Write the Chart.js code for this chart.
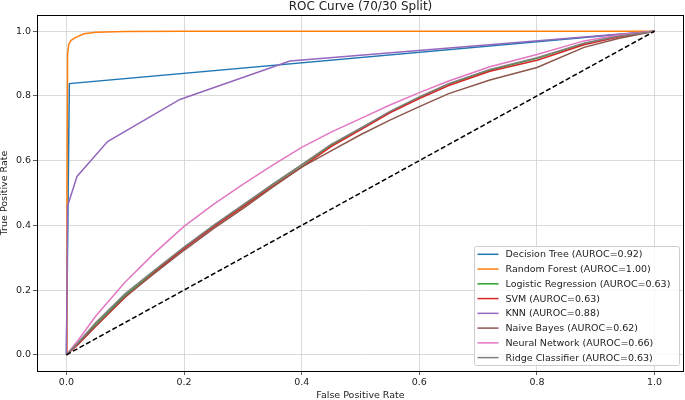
<!DOCTYPE html>
<html>
<head>
<meta charset="utf-8">
<script src="https://cdn.jsdelivr.net/npm/chart.js@4/dist/chart.umd.min.js"></script>
<style>
  html, body { margin: 0; padding: 0; background: #fff; }
  #rocChart { display: block; }
</style>
</head>
<body>
<canvas id="rocChart" width="685" height="400"></canvas>
<script>
'use strict';

let chartTitle = 'ROC Curve (70/30 Split)';
let modelNames = ['Decision Tree', 'Random Forest', 'Logistic Regression', 'SVM',
  'KNN', 'Naive Bayes', 'Neural Network', 'Ridge Classifier'];
let aurocs = ['0.92', '1.00', '0.63', '0.63', '0.88', '0.62', '0.66', '0.63'];
let lineColors = ['#1f77b4', '#ff7f0e', '#2ca02c', '#d62728',
  '#9467bd', '#8c564b', '#e377c2', '#7f7f7f'];

// curves (false positive rate / true positive rate)
let dtFpr = [0, 0.005, 1];
let dtTpr = [0, 0.838, 1];

let rfFpr = [0, 0.001, 0.002, 0.004, 0.008, 0.015, 0.03, 0.05, 0.1, 0.2, 1];
let rfTpr = [0, 0.5, 0.93, 0.96, 0.972, 0.98, 0.992, 0.997, 0.999, 1, 1];

let knnFpr = [0, 0.002, 0.018, 0.07, 0.193, 0.38, 1];
let knnTpr = [0, 0.46, 0.551, 0.659, 0.789, 0.908, 1];

let gridFpr = [0, 0.02, 0.05, 0.1, 0.15, 0.2, 0.25, 0.3, 0.35, 0.4, 0.45, 0.5,
  0.55, 0.6, 0.65, 0.72, 0.8, 0.88, 0.94, 1];
let lrTpr = [0, 0.036, 0.097, 0.185, 0.259, 0.331, 0.398, 0.461, 0.525, 0.586, 0.647,
  0.699, 0.75, 0.796, 0.837, 0.88, 0.916, 0.962, 0.985, 1];
let svmTpr = [0, 0.032, 0.088, 0.178, 0.255, 0.328, 0.395, 0.457, 0.52, 0.58, 0.643,
  0.695, 0.748, 0.792, 0.832, 0.876, 0.91, 0.958, 0.983, 1];
let nbTpr = [0, 0.035, 0.09, 0.18, 0.252, 0.323, 0.39, 0.452, 0.517, 0.58, 0.63,
  0.68, 0.725, 0.767, 0.807, 0.849, 0.888, 0.95, 0.978, 1];
let nnTpr = [0, 0.045, 0.12, 0.225, 0.315, 0.397, 0.465, 0.527, 0.585, 0.641, 0.688,
  0.73, 0.772, 0.81, 0.846, 0.89, 0.928, 0.97, 0.988, 1];
let ridgeTpr = [0, 0.038, 0.1, 0.189, 0.262, 0.333, 0.4, 0.463, 0.527, 0.588, 0.65,
  0.7, 0.752, 0.797, 0.838, 0.882, 0.918, 0.963, 0.985, 1];

let chanceFpr = [0, 1];
let chanceTpr = [0, 1];

let xTicks = [0, 0.2, 0.4, 0.6, 0.8, 1.0];
let yTicks = [0, 0.2, 0.4, 0.6, 0.8, 1.0];

function toPoints(xs, ys) {
  let pts = [];
  for (let i = 0; i < xs.length; i++) {
    pts.push({ x: xs[i], y: ys[i] });
  }
  return pts;
}

let curves = [
  [dtFpr, dtTpr], [rfFpr, rfTpr], [gridFpr, lrTpr], [gridFpr, svmTpr],
  [knnFpr, knnTpr], [gridFpr, nbTpr], [gridFpr, nnTpr], [gridFpr, ridgeTpr]
];

let datasets = [];
for (let i = 0; i < curves.length; i++) {
  datasets.push({
    label: `${modelNames[i]} (AUROC=${aurocs[i]})`,
    data: toPoints(curves[i][0], curves[i][1]),
    borderColor: lineColors[i],
    backgroundColor: lineColors[i],
    borderWidth: 1.5,
    pointRadius: 0,
    showLine: true,
    fill: false,
    order: curves.length - i,
    inLegend: true
  });
}
datasets.push({
  label: 'chance',
  data: toPoints(chanceFpr, chanceTpr),
  borderColor: '#000000',
  borderWidth: 1.5,
  borderDash: [5, 2.5],
  pointRadius: 0,
  showLine: true,
  fill: false,
  order: 0,
  inLegend: false
});

let font = 'DejaVu Sans';

// title over the axes, frame on all four sides, legend inside the axes
let framePlugin = {
  id: 'framePlugin',
  afterDatasetsDraw(chart) {
    let ctx = chart.ctx;
    let a = chart.chartArea;
    ctx.save();

    ctx.font = `12px "${font}"`;
    ctx.fillStyle = '#222222';
    ctx.textAlign = 'center';
    ctx.textBaseline = 'middle';
    ctx.fillText(chartTitle, (a.left + a.right) / 2, 7);

    ctx.strokeStyle = '#000000';
    ctx.lineWidth = 1;
    ctx.strokeRect(Math.round(a.left) + 0.5, Math.round(a.top) + 0.5,
      Math.round(a.right - a.left) - 1, Math.round(a.bottom - a.top));

    let w = 205, h = 119;
    let bx = a.right - 5 - w;
    let by = a.bottom - 6 - h;
    ctx.fillStyle = 'rgba(255,255,255,0.8)';
    ctx.strokeStyle = '#cccccc';
    ctx.beginPath();
    ctx.roundRect(bx + 0.5, by + 0.5, w, h, 2);
    ctx.fill();
    ctx.stroke();

    let sets = chart.data.datasets.filter(d => d.inLegend);
    ctx.font = `9.5px "${font}"`;
    ctx.textBaseline = 'middle';
    ctx.textAlign = 'left';
    for (let i = 0; i < sets.length; i++) {
      let ry = by + 8.3 + i * 14.76;
      ctx.strokeStyle = sets[i].borderColor;
      ctx.lineWidth = 1.5;
      ctx.beginPath();
      ctx.moveTo(bx + 3.5, ry);
      ctx.lineTo(bx + 24.5, ry);
      ctx.stroke();
      ctx.fillStyle = '#222222';
      ctx.fillText(sets[i].label, bx + 31.5, ry + 0.5);
    }
    ctx.restore();
  }
};

let ctx = document.getElementById('rocChart').getContext('2d');
let rocChart = new Chart(ctx, {
  type: 'scatter',
  data: { datasets: datasets },
  plugins: [framePlugin],
  options: {
    responsive: false,
    animation: false,
    layout: { padding: { left: 0, right: 1, top: 15, bottom: 0 } },
    plugins: {
      legend: { display: false },
      tooltip: { enabled: false },
      title: { display: false }
    },
    scales: {
      x: {
        type: 'linear',
        min: -0.05,
        max: 1.05,
        afterBuildTicks: s => { s.ticks = xTicks.map(v => ({ value: v })); },
        afterFit: s => { s.height = 29; },
        border: { display: false },
        grid: { color: '#d0d0d0', lineWidth: 0.8, drawTicks: true, tickLength: 4, tickColor: '#333333' },
        ticks: {
          color: '#222222',
          padding: 2,
          maxRotation: 0,
          font: { family: font, size: 9.5 },
          callback: v => Number(v).toFixed(1)
        },
        title: {
          display: true,
          text: 'False Positive Rate',
          color: '#222222',
          font: { family: font, size: 9.5, lineHeight: 1 },
          padding: { top: 0, bottom: 0 }
        }
      },
      y: {
        type: 'linear',
        min: -0.05,
        max: 1.05,
        afterBuildTicks: s => { s.ticks = yTicks.map(v => ({ value: v })); },
        afterFit: s => { s.width = 37; },
        border: { display: false },
        grid: { color: '#d0d0d0', lineWidth: 0.8, drawTicks: true, tickLength: 4, tickColor: '#333333' },
        ticks: {
          color: '#222222',
          padding: 2,
          font: { family: font, size: 9.5 },
          callback: v => Number(v).toFixed(1)
        },
        title: {
          display: true,
          text: 'True Positive Rate',
          color: '#222222',
          font: { family: font, size: 9.5, lineHeight: 1 },
          padding: { top: 0, bottom: 0 }
        }
      }
    }
  }
});
</script>
</body>
</html>
